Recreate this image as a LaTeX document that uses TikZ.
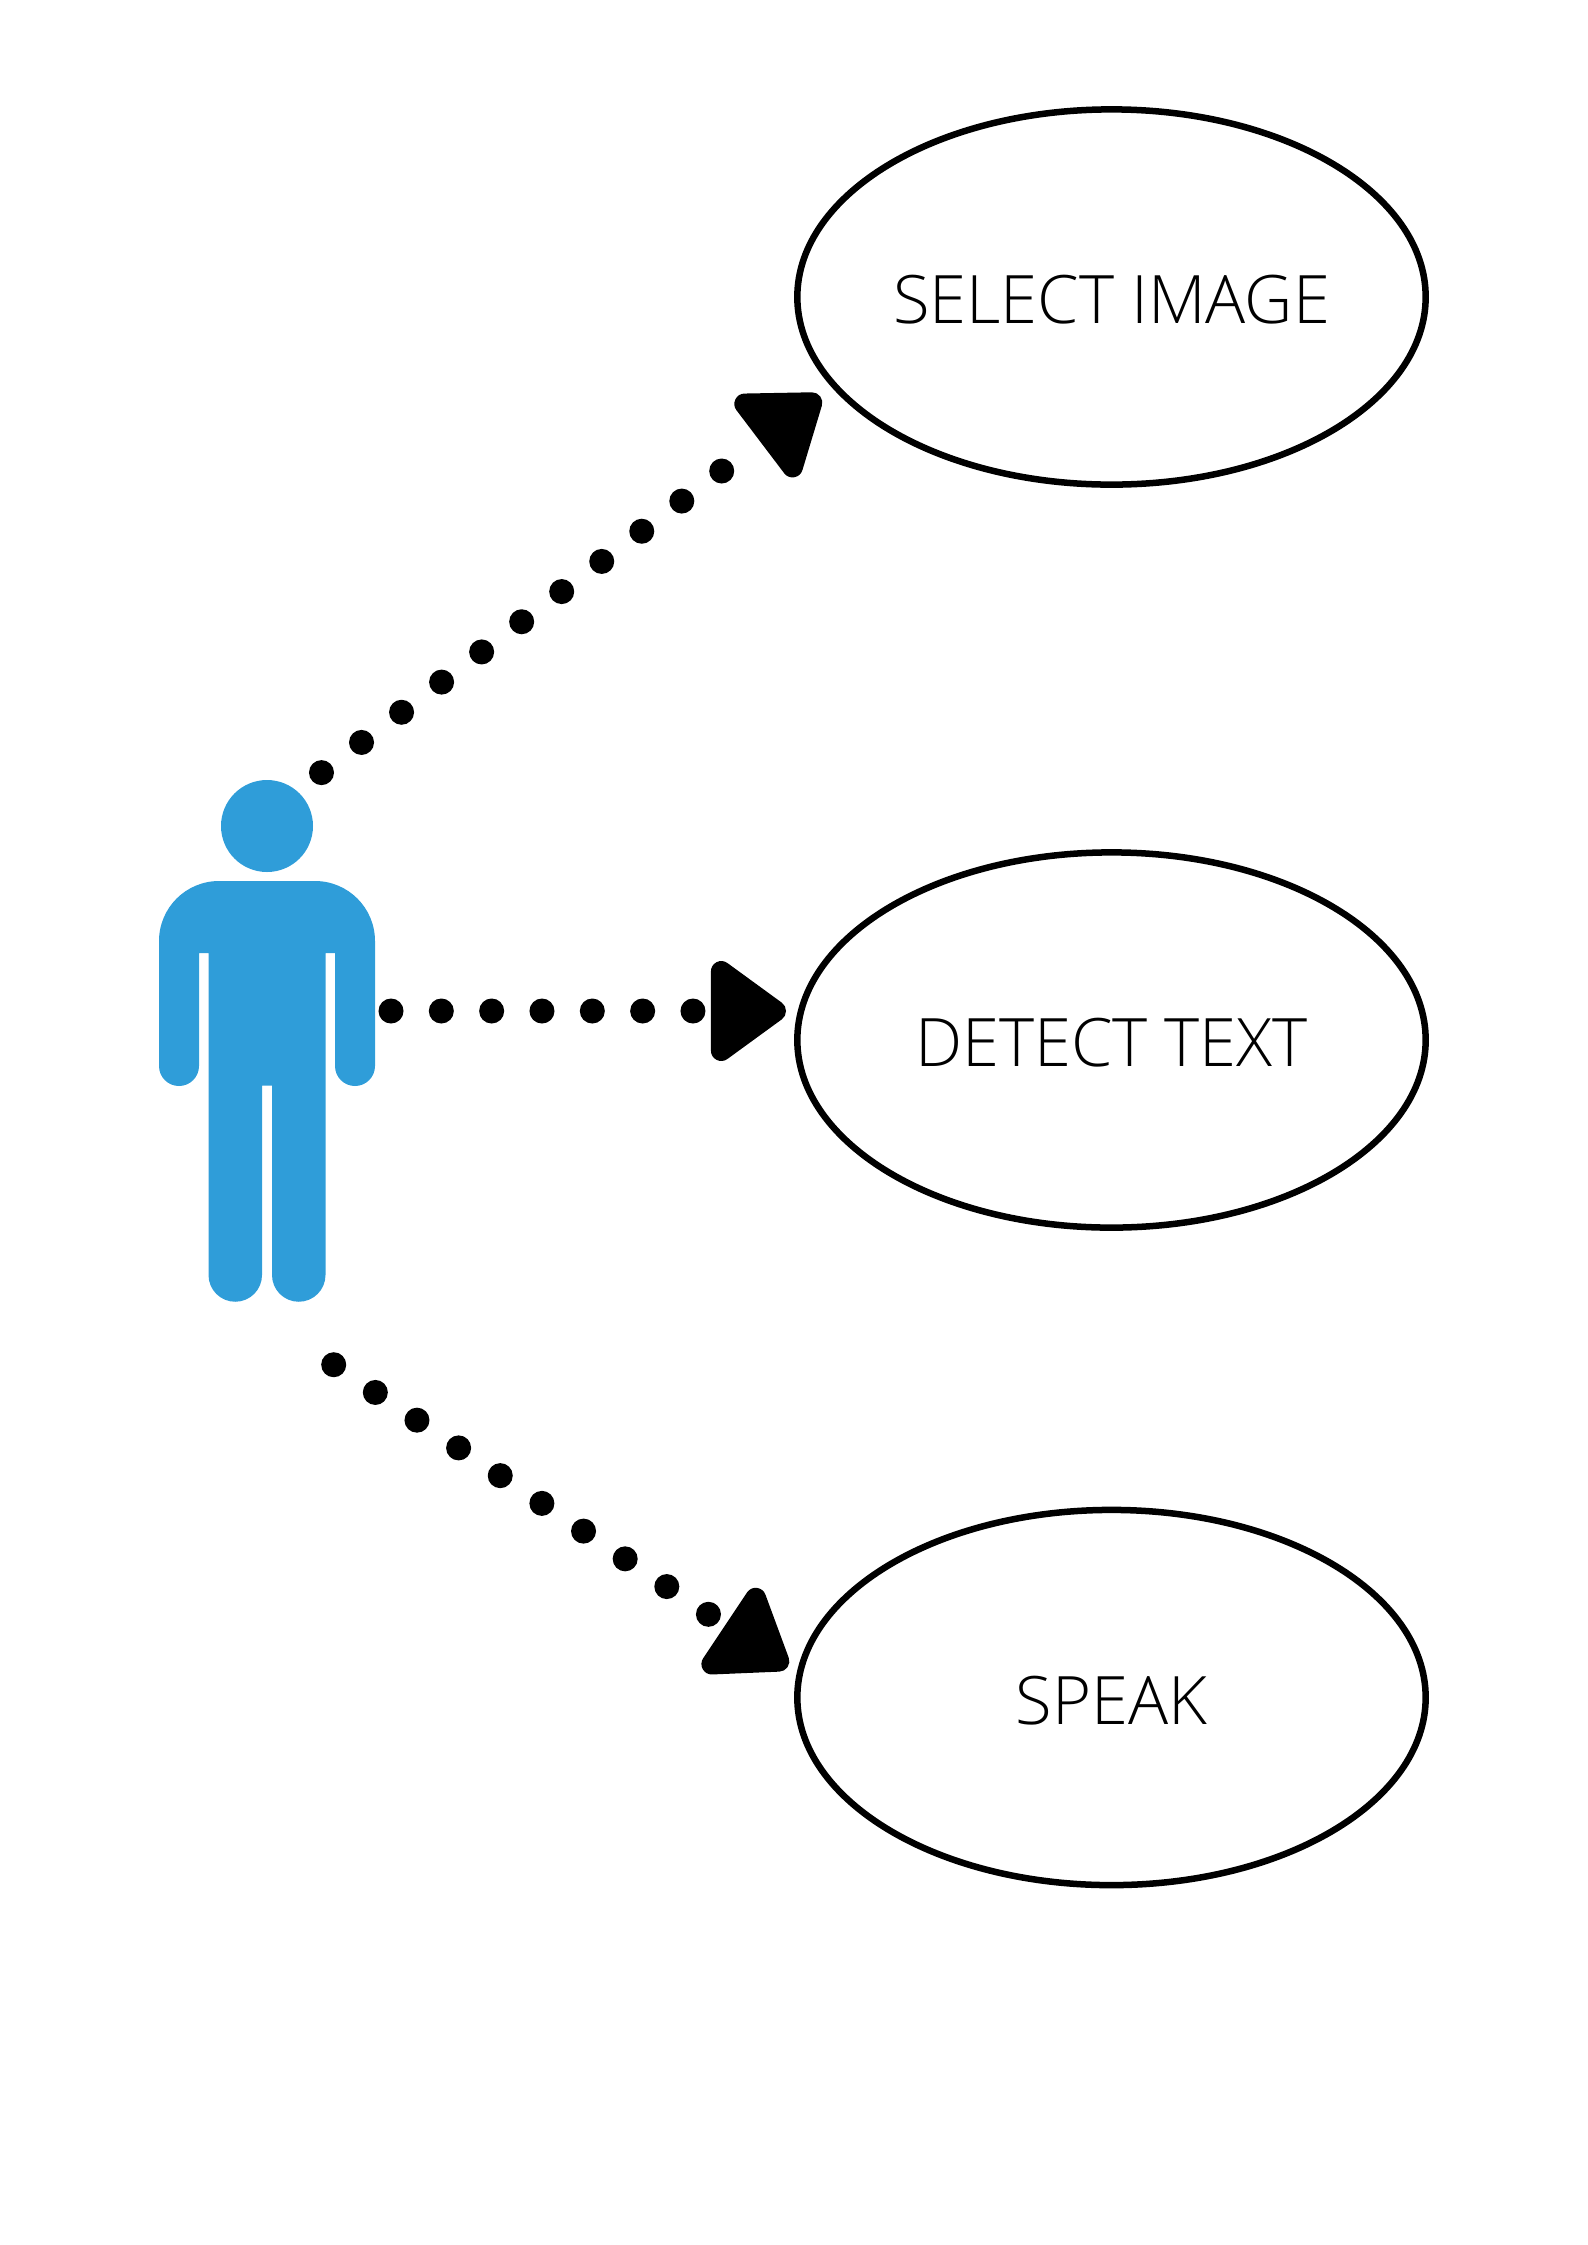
\documentclass[tikz,border=0pt]{standalone}
\usepackage{fontspec}
\usepackage{tikz}
\usetikzlibrary{arrows.meta, shapes.geometric}
\setmainfont{Open Sans Light}

\definecolor{actorblue}{HTML}{2F9DD9}

\tikzset{
    usecase/.style={draw, ellipse, line width=0.065cm, inner sep=0, outer sep=0,
        minimum width=6.28cm, minimum height=3.75cm, text height=0.53cm, text depth=0pt,
        font=\fontsize{19}{23}\selectfont},
    dotted line/.style={line width=0.25cm, line cap=round,
        dash pattern=on 0pt off #1,
        -{Triangle[round, length=0.83cm, width=1.14cm, line width=0.32cm]}},
    dotted line/.default=0.5cm,
}

\begin{document}
\begin{tikzpicture}[x=0.01cm, y=-0.01cm]
    \useasboundingbox (0, 0) rectangle (1587, 2245);

    \node[usecase] (select) at (1111.5, 297) {SELECT IMAGE};
    \node[usecase] (detect) at (1111.5, 1040) {DETECT TEXT};
    \node[usecase] (speak) at (1111.5, 1697.5) {SPEAK};

    % actor
    \fill[actorblue] (267, 826) circle (46);
    \fill[actorblue] (159, 941) arc [start angle=180, end angle=270, radius=60]
        -- (315, 881) arc [start angle=-90, end angle=0, radius=60]
        -- (375, 1066) arc [start angle=0, end angle=180, radius=20]
        -- (335, 953) -- (325.5, 953) -- (325.5, 1275)
        arc [start angle=0, end angle=180, radius=26.75]
        -- (272, 1085.5) -- (262, 1085.5) -- (262, 1275)
        arc [start angle=0, end angle=180, radius=26.75]
        -- (208.5, 953) -- (199, 953) -- (199, 1066)
        arc [start angle=0, end angle=180, radius=20] -- cycle;

    \coordinate (tailA) at (321.5, 772.6);
    \coordinate (lastA) at (721.7, 471);
    \coordinate (headA) at (820.2, 396.4);
    \coordinate (tailB) at (391, 1011);
    \coordinate (headB) at (786, 1011);
    \coordinate (tailC) at (333.7, 1364.7);
    \coordinate (headC) at (787.6, 1667);

    \draw[dotted line=0.501cm, -] (tailA) -- (lastA);
    \draw[dotted line=10cm] (lastA) -- (headA);
    \draw[dotted line=0.503cm] (tailB) -- (headB);
    \draw[dotted line] (tailC) -- (headC);
\end{tikzpicture}
\end{document}
